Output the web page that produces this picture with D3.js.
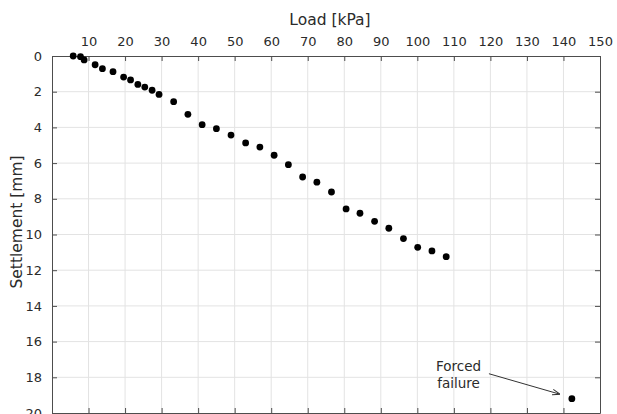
<!DOCTYPE html>
<html>
<head>
<meta charset="utf-8">
<script src="https://cdn.jsdelivr.net/npm/d3@7"></script>
<style>
  body { margin: 0; background: #fff; }
  svg { display: block; font-family: "DejaVu Sans", Verdana, sans-serif; }
</style>
</head>
<body>
<svg id="chart" width="617" height="414"></svg>
<script>
'use strict';

// data
var load = [5.8, 7.8, 8.8, 11.8, 13.8, 16.7, 19.6, 21.5, 23.5, 25.4, 27.4, 29.3,
            33.3, 37.2, 41.1, 45.0, 49.0, 53.0, 56.9, 60.8, 64.7, 68.6, 72.5,
            76.5, 80.5, 84.3, 88.3, 92.2, 96.2, 100.1, 104.0, 107.9, 142.3];
var settlement = [0.0, 0.04, 0.22, 0.49, 0.71, 0.88, 1.18, 1.34, 1.59, 1.74, 1.92, 2.15,
                  2.56, 3.27, 3.85, 4.07, 4.43, 4.87, 5.10, 5.56, 6.09, 6.78, 7.07,
                  7.62, 8.57, 8.81, 9.26, 9.65, 10.23, 10.72, 10.92, 11.24, 19.2];
var xTicks = [10, 20, 30, 40, 50, 60, 70, 80, 90, 100, 110, 120, 130, 140, 150];
var yTicks = [0, 2, 4, 6, 8, 10, 12, 14, 16, 18, 20];

var svg = d3.select("#chart");
var pL = 52, pR = 600, pT = 56, pB = 413;

var x = d3.scaleLinear().domain([0, 150]).range([pL, pR]);
var y = d3.scaleLinear().domain([0, 20]).range([pT, pB]);

var axisColor = "#4d4d4d", textColor = "#2b2b2b";

// grid
svg.append("g").selectAll("line").data(xTicks.slice(0, -1))
  .enter().append("line")
  .attr("x1", function(d) { return x(d); }).attr("x2", function(d) { return x(d); })
  .attr("y1", pT).attr("y2", pB)
  .attr("stroke", "#e3e3e3");
svg.append("g").selectAll("line").data(yTicks.slice(1, -1))
  .enter().append("line")
  .attr("y1", function(d) { return y(d); }).attr("y2", function(d) { return y(d); })
  .attr("x1", pL).attr("x2", pR)
  .attr("stroke", "#e3e3e3");

// axes, ticks point inward
function style(g) {
  g.selectAll(".domain").attr("stroke", axisColor);
  g.selectAll(".tick line").attr("stroke", axisColor);
  g.selectAll("text").attr("fill", textColor).style("font-size", "13px")
    .style("font-family", "DejaVu Sans, Verdana, sans-serif");
}

svg.append("g").attr("transform", "translate(0," + pT + ")")
  .call(d3.axisTop(x).tickValues(xTicks).tickSizeInner(-5).tickSizeOuter(0).tickPadding(10))
  .call(style);
svg.append("g").attr("transform", "translate(0," + pB + ")")
  .call(d3.axisBottom(x).tickValues(xTicks).tickSizeInner(-5).tickSizeOuter(0).tickFormat(""))
  .call(style);
svg.append("g").attr("transform", "translate(" + pL + ",0)")
  .call(d3.axisLeft(y).tickValues(yTicks).tickSizeInner(-5).tickSizeOuter(0).tickPadding(10))
  .call(style);
svg.append("g").attr("transform", "translate(" + pR + ",0)")
  .call(d3.axisRight(y).tickValues(yTicks).tickSizeInner(-5).tickSizeOuter(0).tickFormat(""))
  .call(style);

// axis titles
svg.append("text").attr("x", 330).attr("y", 25)
  .attr("text-anchor", "middle").attr("fill", textColor)
  .style("font-size", "15.5px").text("Load [kPa]");
svg.append("text").attr("transform", "translate(22,222) rotate(-90)")
  .attr("text-anchor", "middle").attr("fill", textColor)
  .style("font-size", "15.5px").text("Settlement [mm]");

// points
svg.append("g").selectAll("circle").data(load)
  .enter().append("circle")
  .attr("cx", function(d) { return x(d); })
  .attr("cy", function(d, i) { return y(settlement[i]); })
  .attr("r", 3.4)
  .attr("fill", "#000");

// annotation
svg.append("defs").append("marker")
  .attr("id", "head").attr("viewBox", "0 0 10 10")
  .attr("refX", 9).attr("refY", 5)
  .attr("markerWidth", 8).attr("markerHeight", 8)
  .attr("markerUnits", "userSpaceOnUse")
  .attr("orient", "auto")
  .append("path").attr("d", "M0,1.5 L10,5 L0,8.5")
  .attr("fill", "none").attr("stroke", "#333").attr("stroke-width", 1.2);

svg.append("line")
  .attr("x1", x(119.6)).attr("y1", y(17.8))
  .attr("x2", x(138.9)).attr("y2", y(18.94))
  .attr("stroke", "#333").attr("stroke-width", 1)
  .attr("marker-end", "url(#head)");

var note = svg.append("text").attr("text-anchor", "middle")
  .attr("fill", textColor).style("font-size", "13.5px");
note.append("tspan").attr("x", x(111.3)).attr("y", y(17.63)).text("Forced");
note.append("tspan").attr("x", x(111.3)).attr("y", y(18.6)).text("failure");
</script>
</body>
</html>
